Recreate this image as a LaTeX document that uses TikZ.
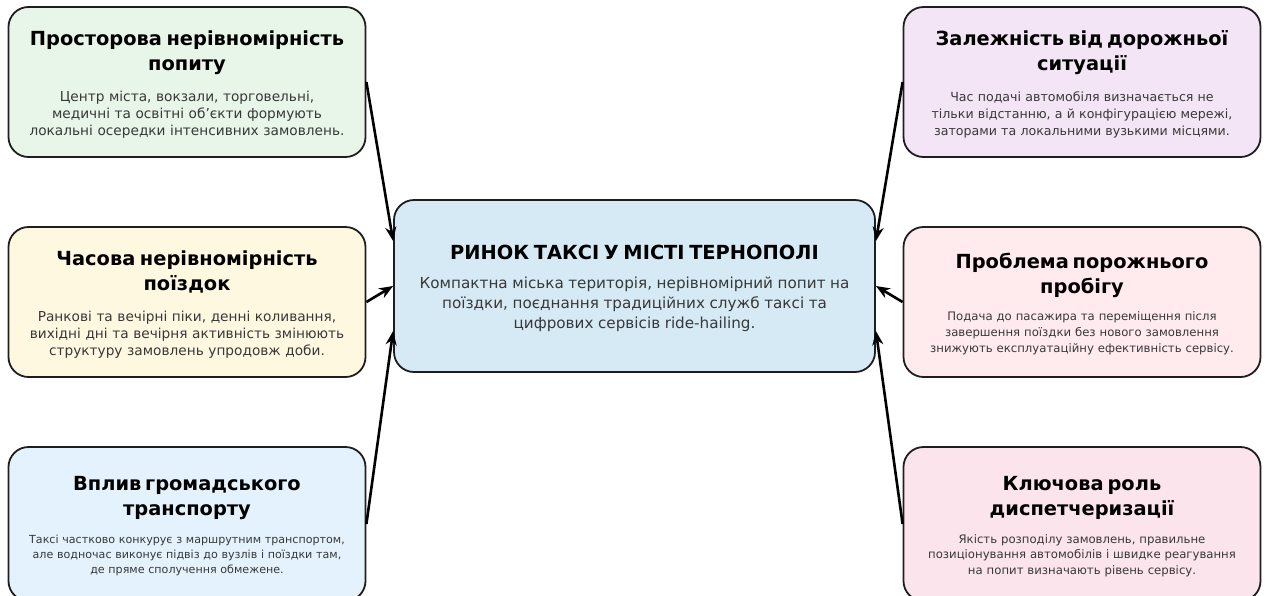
\documentclass[tikz,border=0pt]{standalone}
\usepackage{fontspec}
\setmainfont{DejaVu Sans}
\usetikzlibrary{arrows.meta}

\definecolor{spatialbg}{HTML}{E8F5E9}
\definecolor{timebg}{HTML}{FFF8E1}
\definecolor{transitbg}{HTML}{E3F2FD}
\definecolor{trafficbg}{HTML}{F3E5F5}
\definecolor{emptybg}{HTML}{FFEBEE}
\definecolor{dispatchbg}{HTML}{FCE4EC}
\definecolor{marketbg}{HTML}{D6EAF5}
\definecolor{edgecol}{HTML}{1E1E1E}

\newcommand{\boxtitle}[2][15pt]{{\fontsize{19.4}{25}\selectfont\bfseries\color{black}\rule{0pt}{19pt}#2\par}\vspace{#1}}
\newcommand{\bodysize}[2]{\fontsize{#1}{#2}\selectfont}

\begin{document}
\begin{tikzpicture}[x=1pt, y=-1pt]
  \tikzstyle{factor}=[draw=edgecol, line width=1.8pt, rounded corners=20pt, minimum width=357pt, minimum height=150pt, text width=347pt, align=center, inner sep=5pt, text=black!78, font=\bodysize{13.7}{16.7}]
  \tikzstyle{lower}=[factor, minimum height=154pt]
  \tikzstyle{hub}=[factor, fill=marketbg, minimum width=481pt, minimum height=172pt, text width=470pt]
  \tikzstyle{link}=[-{Stealth[length=14pt,width=11pt]}, line width=2.6pt]
  \useasboundingbox (0,0) rectangle (1265,595);

  \node[hub] (market) at (634.5,286) {\boxtitle[9pt]{РИНОК ТАКСІ У МІСТІ ТЕРНОПОЛІ}{\fontsize{15.2}{20}\selectfont Компактна міська територія, нерівномірний попит на\\поїздки, поєднання традиційних служб таксі та\\цифрових сервісів ride-hailing.\par}};

  \node[factor, fill=spatialbg] (spatial) at (187,82) {\boxtitle{Просторова нерівномірність\\попиту}Центр міста, вокзали, торговельні,\\медичні та освітні об’єкти формують\\локальні осередки інтенсивних замовлень.};
  \node[factor, fill=timebg] (temporal) at (187,302) {\boxtitle{Часова нерівномірність\\поїздок}Ранкові та вечірні піки, денні коливання,\\вихідні дні та вечірня активність змінюють\\структуру замовлень упродовж доби.};
  \node[lower, fill=transitbg, font=\bodysize{11.1}{15}] (transit) at (187,524) {\boxtitle[13pt]{Вплив громадського\\транспорту}Таксі частково конкурує з маршрутним транспортом,\\але водночас виконує підвіз до вузлів і поїздки там,\\де пряме сполучення обмежене.};

  \node[factor, fill=trafficbg, font=\bodysize{12.6}{16.7}] (traffic) at (1082,82) {\boxtitle{Залежність від дорожньої\\ситуації}Час подачі автомобіля визначається не\\тільки відстанню, а й конфігурацією мережі,\\заторами та локальними вузькими місцями.};
  \node[factor, fill=emptybg, font=\bodysize{11.7}{16}] (empty) at (1082,302) {\boxtitle[11.5pt]{Проблема порожнього\\пробігу}Подача до пасажира та переміщення після\\завершення поїздки без нового замовлення\\знижують експлуатаційну ефективність сервісу.};
  \node[lower, fill=dispatchbg, font=\bodysize{11.7}{15.5}] (dispatch) at (1082,524) {\boxtitle[12pt]{Ключова роль\\диспетчеризації}Якість розподілу замовлень, правильне\\позиціонування автомобілів і швидке реагування\\на попит визначають рівень сервісу.};

  \draw[link] (spatial.east) -- ([yshift=45pt]market.west);
  \draw[link] (temporal.east) -- (market.west);
  \draw[link] (transit.east) -- ([yshift=-45pt]market.west);
  \draw[link] (traffic.west) -- ([yshift=45pt]market.east);
  \draw[link] (empty.west) -- (market.east);
  \draw[link] (dispatch.west) -- ([yshift=-45pt]market.east);
\end{tikzpicture}
\end{document}
